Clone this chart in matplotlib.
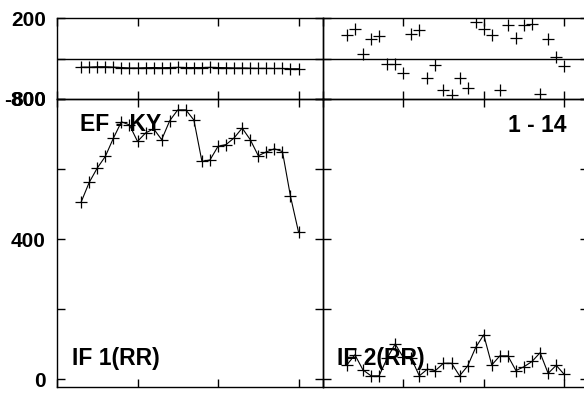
import numpy as np
import matplotlib
matplotlib.use("Agg")
import matplotlib.pyplot as plt

plt.rcParams['font.family'] = ['Liberation Sans', 'DejaVu Sans']
plt.rcParams['font.weight'] = 'bold'

# x positions (same for both panels)
x_vals = [3, 4, 5, 6, 7, 8, 9, 10, 11, 12, 13, 14, 15, 16, 17,
          18, 19, 20, 21, 22, 23, 24, 25, 26, 27, 28, 29, 30]

# top strip values
top_left = [-405, -405, -400, -400, -405, -410, -415, -415, -412, -410,
            -412, -410, -408, -410, -410, -410, -408, -410, -412, -415,
            -415, -418, -420, -420, -422, -422, -425, -425]
top_right = [-7, 67, -246, -56, -19, -370, -370, -481, 2, 55,
             -543, -379, -688, -751, -543, -660, 150, 67, -7, -692,
             117, -40, 117, 126, -734, -56, -276, -387]

# bottom panel values
if1_vals = [506, 562, 603, 636, 688, 735, 726, 679, 703, 715,
            684, 738, 769, 769, 740, 622, 626, 665, 670, 689,
            717, 684, 638, 649, 658, 650, 522, 420]
if2_vals = [41, 70, 27, 10, 10, 60, 101, 63, 60, 10,
            29, 25, 46, 46, 10, 38, 91, 127, 41, 67,
            67, 25, 36, 51, 76, 17, 40, 14]

W, H = 584, 395
fig = plt.figure(figsize=(W / 100, H / 100), dpi=100)

x0, xm, x1 = 57, 322.7, 588.4
ytop, ymid, ybot = 18.3, 99, 386.7


def rect(l, r, t, b):
    return [l / W, 1 - b / H, (r - l) / W, (b - t) / H]


ax_tl = fig.add_axes(rect(x0, xm, ytop, ymid))
ax_tr = fig.add_axes(rect(xm, x1, ytop, ymid))
ax_bl = fig.add_axes(rect(x0, xm, ymid, ybot))
ax_br = fig.add_axes(rect(xm, x1, ymid, ybot))

mk = dict(marker='+', markersize=8, markeredgewidth=0.9, color='black')

ax_tl.plot(x_vals, top_left, linewidth=0.8, **mk)
ax_tr.plot(x_vals, top_right, linestyle='none', **mk)
ax_bl.plot(x_vals, if1_vals, linewidth=0.8, **mk)
ax_br.plot(x_vals, if2_vals, linewidth=0.8, **mk)

for ax in (ax_tl, ax_tr):
    ax.set_ylim(-800, 200)
    ax.set_yticks([-800, -300, 200])
    ax.axhline(-300, color='black', linewidth=1)
for ax in (ax_bl, ax_br):
    ax.set_ylim(-21, 800)
    ax.set_yticks([0, 200, 400, 600, 800])

for ax in (ax_tl, ax_tr, ax_bl, ax_br):
    ax.set_xlim(0, 33)
    ax.set_xticks([0, 10, 20, 30])
    ax.set_xticklabels([])
    ax.tick_params(direction='in', length=6, width=1, top=True, right=True,
                   labelsize=15, pad=8)
    for s in ax.spines.values():
        s.set_linewidth(1)
        s.set_color('black')
    ax.patch.set_alpha(0)

ax_tl.set_yticklabels(['-800', '', '200'])
ax_bl.set_yticklabels(['0', '', '400', '', '800'])
ax_tr.set_yticklabels([])
ax_br.set_yticklabels([])

ax_bl.text(0.0866, 0.889, 'EF - KY', transform=ax_bl.transAxes,
           fontsize=16.5, fontweight='bold', va='baseline', ha='left')
ax_bl.text(0.0565, 0.0754, 'IF 1(RR)', transform=ax_bl.transAxes,
           fontsize=16.5, fontweight='bold', va='baseline', ha='left')
ax_br.text(0.054, 0.0754, 'IF 2(RR)', transform=ax_br.transAxes,
           fontsize=16.5, fontweight='bold', va='baseline', ha='left')
ax_br.text(0.919, 0.886, '1 - 14', transform=ax_br.transAxes,
           fontsize=16.5, fontweight='bold', va='baseline', ha='right')

fig.savefig('out.png', dpi=100)
